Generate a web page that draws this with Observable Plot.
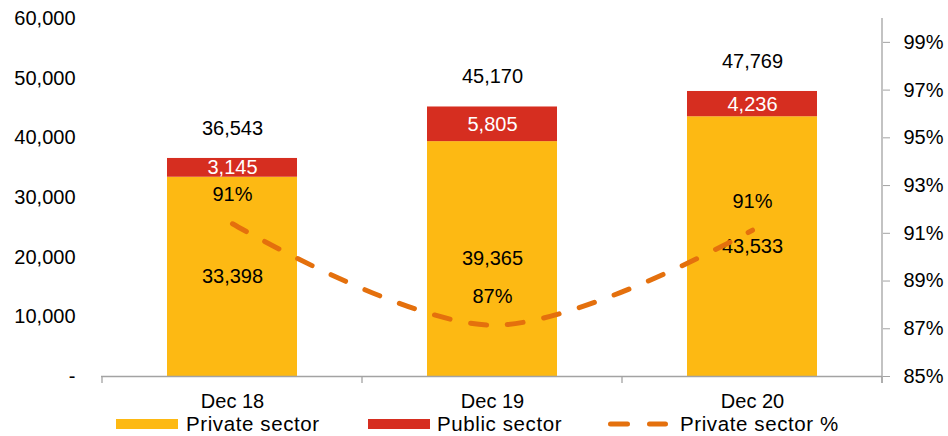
<!DOCTYPE html>
<html>
<head>
<meta charset="utf-8">
<script src="https://cdn.jsdelivr.net/npm/d3@7"></script>
<script src="https://cdn.jsdelivr.net/npm/@observablehq/plot@0.6"></script>
<style>
  body { margin: 0; background: #fff; font-family: "Liberation Sans", Arial, sans-serif; }
  #legend { position: relative; width: 948px; height: 24px; font-size: 20.5px; letter-spacing: 0.6px; line-height: 24px; color: #000; }
  #legend .sw { position: absolute; top: 7px; width: 62px; height: 10px; }
  #legend .tx { position: absolute; top: 0; white-space: nowrap; }
</style>
</head>
<body>
<div id="chart"></div>
<div id="legend"></div>
<script>
// ---- data ----
const categories = ["Dec 18", "Dec 19", "Dec 20"];
const privateSector = [33398, 39365, 43533];
const publicSector = [3145, 5805, 4236];
const totals = [36543, 45170, 47769];
const privatePct = [91.4, 87.15, 91.13];
const pctLabels = ["91%", "87%", "91%"];
const seriesNames = ["Private sector", "Public sector", "Private sector %"];
const leftTicks = [0, 10000, 20000, 30000, 40000, 50000, 60000];
const rightTicks = [85, 87, 89, 91, 93, 95, 97, 99];
const leftDomain = [0, 60000];
const rightDomain = [85, 100];

// ---- styles ----
const colors = ["#FDB913", "#D62E20", "#E4700D"];
const gray = "#A3A3A3";
const font = "Liberation Sans, Arial, sans-serif";

const toLeft = p => (p - rightDomain[0]) / (rightDomain[1] - rightDomain[0]) * (leftDomain[1] - leftDomain[0]) + leftDomain[0];
const fmt = d3.format(",");

const bars = [];
categories.forEach((c, i) => {
  bars.push({cat: c, sector: seriesNames[0], value: privateSector[i]});
  bars.push({cat: c, sector: seriesNames[1], value: publicSector[i]});
});
const rows = categories.map((c, i) => ({
  cat: c,
  priv: privateSector[i],
  pub: publicSector[i],
  total: totals[i],
  pct: privatePct[i],
  pctLabel: pctLabels[i]
}));

const chart = Plot.plot({
  width: 948,
  height: 412,
  marginLeft: 101,
  marginRight: 66,
  marginTop: 18,
  marginBottom: 36,
  style: {fontFamily: font, fontSize: "20px", color: "#000", background: "#fff"},
  x: {domain: categories, paddingInner: 0.5, paddingOuter: 0.25, axis: null},
  y: {domain: leftDomain, axis: null},
  color: {domain: seriesNames.slice(0, 2), range: colors.slice(0, 2)},
  marks: [
    Plot.barY(bars, {x: "cat", y: "value", fill: "sector"}),
    Plot.ruleY([0], {stroke: gray, strokeWidth: 1.3}),
    Plot.axisY({anchor: "left", ticks: leftTicks, tickSize: 0, tickPadding: 26,
      tickFormat: d => d === 0 ? "-" : fmt(d), fontSize: 20, label: null}),
    Plot.axisY({anchor: "right", ticks: rightTicks.map(toLeft), tickSize: 7, tickPadding: 14,
      stroke: gray, fill: "#000",
      tickFormat: d => Math.round(d / (leftDomain[1] - leftDomain[0]) * (rightDomain[1] - rightDomain[0]) + rightDomain[0]) + "%",
      fontSize: 20, label: null}),
    Plot.axisX({anchor: "bottom", tickSize: 0, tickPadding: 17, fontSize: 20, label: null}),
    Plot.text(rows, {x: "cat", y: d => d.priv / 2, text: d => fmt(d.priv), fill: "#000", fontSize: 20}),
    Plot.text(rows, {x: "cat", y: d => d.priv + d.pub / 2, text: d => fmt(d.pub), fill: "#fff", fontSize: 20}),
    Plot.text(rows, {x: "cat", y: "total", text: d => fmt(d.total), dy: -30, fill: "#000", fontSize: 20}),
    Plot.line(rows, {x: "cat", y: d => toLeft(d.pct), curve: "catmull-rom", stroke: colors[2],
      strokeWidth: 5, strokeDasharray: "16,21", strokeLinecap: "round"}),
    Plot.text(rows, {x: "cat", y: d => toLeft(d.pct), text: "pctLabel", dy: -29, fill: "#000", fontSize: 20})
  ]
});

document.getElementById("chart").appendChild(chart);

// category boundary ticks and right axis line, from the library's scales
const xs = chart.scale("x"), ys = chart.scale("y");
const svg = d3.select(chart);
const bw = xs.bandwidth;
const centers = categories.map(c => xs.apply(c) + bw / 2);
const step = centers[1] - centers[0];
const bounds = centers.map(c => c - step / 2).concat([centers[centers.length - 1] + step / 2]);
const y0 = ys.apply(leftDomain[0]);
const yTop = ys.apply(leftDomain[1]);
const g = svg.append("g").attr("stroke", gray).attr("stroke-width", 1.3);
bounds.forEach(b => {
  g.append("line").attr("x1", b).attr("x2", b).attr("y1", y0).attr("y2", y0 + 7);
});
g.append("line").attr("x1", bounds[bounds.length - 1]).attr("x2", bounds[bounds.length - 1])
  .attr("y1", yTop).attr("y2", y0 + 7);

// legend
const lg = d3.select("#legend");
lg.append("div").attr("class", "sw").style("left", "116px").style("background", colors[0]);
lg.append("div").attr("class", "tx").style("left", "186px").text(seriesNames[0]);
lg.append("div").attr("class", "sw").style("left", "368px").style("background", colors[1]);
lg.append("div").attr("class", "tx").style("left", "437px").text(seriesNames[1]);
const ls = lg.append("svg").attr("width", 62).attr("height", 10)
  .style("position", "absolute").style("left", "606px").style("top", "7px");
ls.append("line").attr("x1", 4.5).attr("x2", 59.5).attr("y1", 5).attr("y2", 5)
  .attr("stroke", colors[2]).attr("stroke-width", 5).attr("stroke-linecap", "round")
  .attr("stroke-dasharray", "17,22");
lg.append("div").attr("class", "tx").style("left", "680px").text(seriesNames[2]);
</script>
</body>
</html>
